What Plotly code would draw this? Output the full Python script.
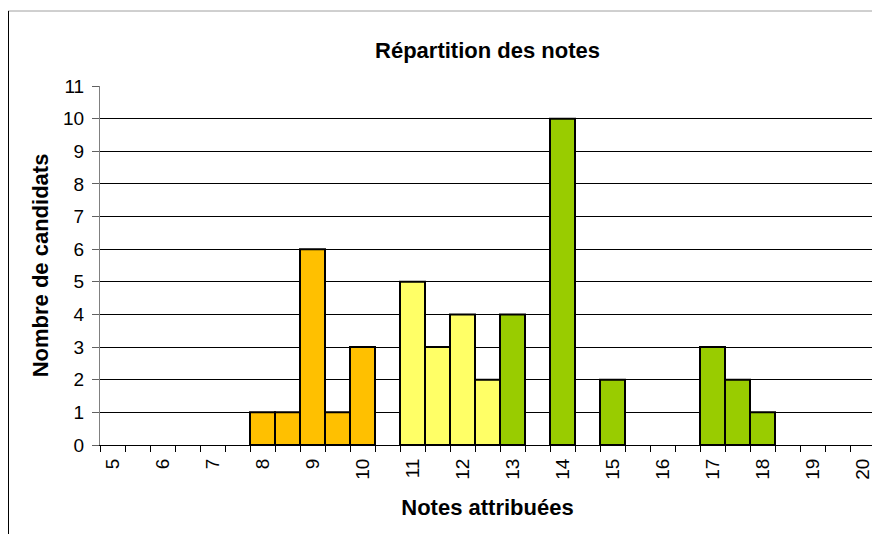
import plotly.graph_objects as go

# Data
orange_notes = [8, 8.5, 9, 9.5, 10]
orange_counts = [1, 1, 6, 1, 3]
yellow_notes = [11, 11.5, 12, 12.5]
yellow_counts = [5, 3, 4, 2]
green_notes = [13, 14, 15, 17, 17.5, 18]
green_counts = [4, 10, 2, 3, 2, 1]
tick_labels = [str(v) for v in range(5, 21)]
tick_values = list(range(5, 21))

FONT = "Liberation Sans, Arial, sans-serif"
W, H = 872, 526  # page body has an 8px margin

fig = go.Figure()
for xs, ys, col in [(orange_notes, orange_counts, "#FFC000"),
                    (yellow_notes, yellow_counts, "#FFFF66"),
                    (green_notes, green_counts, "#99CC00")]:
    fig.add_trace(go.Bar(x=xs, y=ys, width=0.5, marker=dict(color=col, line=dict(color="black", width=2)),
                         showlegend=False, hoverinfo="x+y"))

fig.update_layout(
    width=W, height=H,
    margin=dict(l=92, r=5, t=78, b=89, pad=0),
    paper_bgcolor="white", plot_bgcolor="white",
    barmode="overlay",
    title=dict(text="<b>Répartition des notes</b>", x=0.5, xref="paper", xanchor="center",
               y=1 - 42 / H, yref="container", yanchor="middle",
               font=dict(family=FONT, size=22, color="black")),
    xaxis=dict(range=[4.75, 20.25], tickvals=tick_values, ticktext=tick_labels, tickangle=-90,
               ticks="", showgrid=False, zeroline=False, ticklabelstandoff=5,
               showline=True, linecolor="black", linewidth=1,
               tickfont=dict(family=FONT, size=19, color="black"),
               minor=dict(tick0=4.75, dtick=0.5, ticks="outside", ticklen=6, tickcolor="black", tickwidth=1, showgrid=False),
               title=dict(text="<b>Notes attribuées</b>", font=dict(family=FONT, size=22, color="black"), standoff=20)),
    yaxis=dict(range=[0, 11], dtick=1, showgrid=True, gridcolor="black", gridwidth=1,
               zeroline=False, showline=True, linecolor="#808080", linewidth=1,
               ticks="outside", ticklen=7, tickcolor="#606060", ticklabelstandoff=4,
               tickfont=dict(family=FONT, size=19, color="black"),
               title=dict(text="<b>Nombre de candidats</b>", font=dict(family=FONT, size=22, color="black"), standoff=8)),
)

# chart-area frame (top and left edges visible in the reference)
pw, ph = W - 92 - 5, H - 78 - 89
fig.add_shape(type="line", xref="paper", yref="paper", x0=-92 / pw, x1=1 + 5 / pw, y0=1 + 75 / ph, y1=1 + 75 / ph,
              line=dict(color="#A0A0A0", width=1))
fig.add_shape(type="line", xref="paper", yref="paper", x0=-92 / pw + 0.5 / pw, x1=-92 / pw + 0.5 / pw,
              y0=1 + 75 / ph, y1=-89 / ph, line=dict(color="black", width=1))

fig.write_html("out.html")
